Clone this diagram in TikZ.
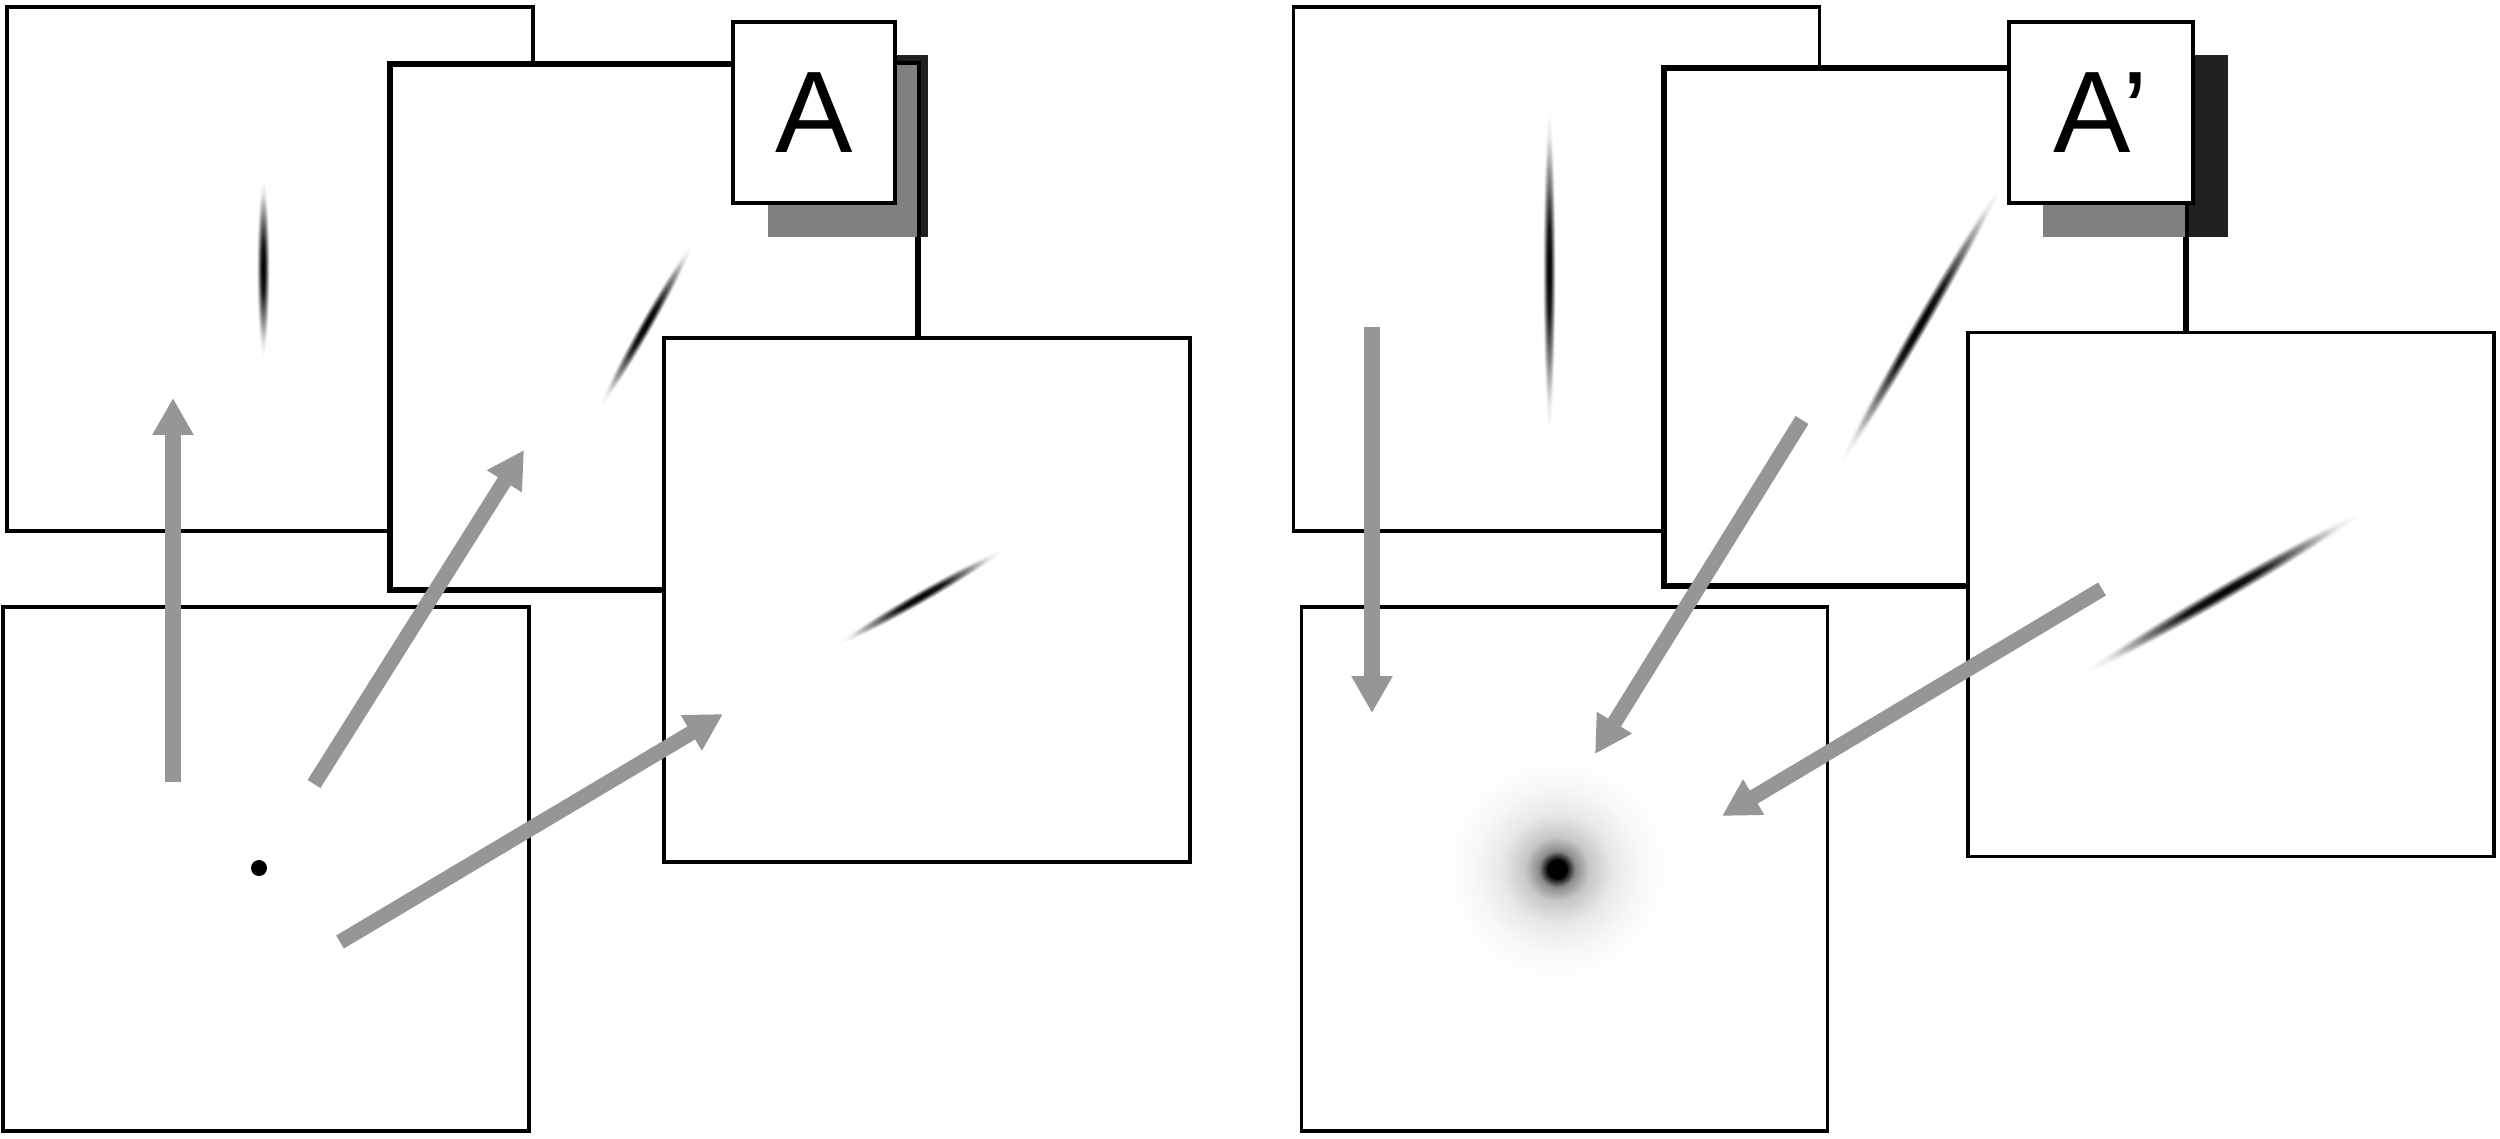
\documentclass[tikz,border=0pt]{standalone}
\usepackage{fontspec}
\usetikzlibrary{arrows.meta}
\newfontfamily\labelfont{Liberation Sans}
\definecolor{arrowgray}{RGB}{150,150,150}
\definecolor{shadowgray}{RGB}{128,128,128}
\definecolor{shadowdark}{RGB}{32,32,32}
\pgfdeclareradialshading{streak}{\pgfpoint{0bp}{0bp}}{color(0bp)=(black); color(7bp)=(black!90); color(14bp)=(black!50); color(21bp)=(black!8); color(25bp)=(white); color(50bp)=(white)}
\pgfdeclareradialshading{halo}{\pgfpoint{0bp}{0bp}}{color(0bp)=(black); color(2bp)=(black); color(4bp)=(black!45); color(7bp)=(black!22); color(12bp)=(black!9); color(18bp)=(black!3); color(25bp)=(white); color(50bp)=(white)}

\begin{document}
\begin{tikzpicture}[x=0.01cm, y=-0.01cm,
	panel/.style={draw, fill=white, line width=1pt, minimum width=5.26cm, minimum height=5.24cm, inner sep=0pt},
	tag/.style={draw, fill=white, line width=1pt, minimum width=1.62cm, minimum height=1.81cm, inner sep=0pt, font=\labelfont\fontsize{33}{36}\selectfont},
	flow/.style={arrowgray, line width=4.3pt, -{Triangle[length=10.5pt, width=11pt]}}]
	\useasboundingbox (0,0) rectangle (2500,1138);

	\node[panel] (p1) at (270,269) {};
	\node[panel] (p2) at (654,327) {};
	\fill[shadowdark] (768,55) rectangle (928,237);
	\begin{scope}
		\clip (p2.south west) rectangle (p2.north east);
		\fill[shadowgray] (768,55) rectangle (928,237);
	\end{scope}
	\draw[line width=1pt] (p2.south west) rectangle (p2.north east);
	\node[tag] (tagA) at (814,112.5) {A};
	\node[panel] (p3) at (927,600) {};
	\node[panel] (p4) at (266,869) {};

	\begin{scope}[transform canvas={rotate around={90:(263,268)}}]
		\shade[shading=streak] (263,268) ellipse (90 and 7);
	\end{scope}
	\begin{scope}[transform canvas={rotate around={60.5:(646,325)}}]
		\shade[shading=streak] (646,325) ellipse (93 and 7);
	\end{scope}
	\begin{scope}[transform canvas={rotate around={29.7:(920,597)}}]
		\shade[shading=streak] (920,597) ellipse (94 and 7);
	\end{scope}
	\fill (259,868) circle (8);

	\coordinate (a1s) at (173,782);
	\coordinate (a1e) at (173,398);
	\coordinate (a2s) at (314,784);
	\coordinate (a2e) at (524,450);
	\coordinate (a3s) at (340,942);
	\coordinate (a3e) at (723,714);
	\draw[flow] (a1s) -- (a1e);
	\draw[flow] (a2s) -- (a2e);
	\draw[flow] (a3s) -- (a3e);

	\node[panel] (q1) at (1556.5,269) {};
	\node[panel, minimum width=5.2cm, minimum height=5.16cm] (q2) at (1925,327) {};
	\fill[shadowdark] (2043,55) rectangle (2228,237);
	\begin{scope}
		\clip (q2.south west) rectangle (q2.north east);
		\fill[shadowgray] (2043,55) rectangle (2228,237);
	\end{scope}
	\draw[line width=1pt] (q2.south west) rectangle (q2.north east);
	\node[tag, minimum width=1.84cm] (tagB) at (2101,112.5) {A’};
	\node[panel] (q3) at (2231,594.5) {};
	\node[panel] (q4) at (1564.5,869) {};

	\begin{scope}[transform canvas={rotate around={90:(1549,270)}}]
		\shade[shading=streak] (1549,270) ellipse (160 and 7);
	\end{scope}
	\begin{scope}[transform canvas={rotate around={60:(1920,325)}}]
		\shade[shading=streak] (1920,325) ellipse (160 and 8);
	\end{scope}
	\begin{scope}[transform canvas={rotate around={30:(2222,593)}}]
		\shade[shading=streak] (2222,593) ellipse (158 and 9);
	\end{scope}
	\shade[shading=halo] (1557,869) circle (115);

	\coordinate (b1s) at (1372,327);
	\coordinate (b1e) at (1372,713);
	\coordinate (b2s) at (1802,420);
	\coordinate (b2e) at (1595,754);
	\coordinate (b3s) at (2102,589);
	\coordinate (b3e) at (1722,816);
	\draw[flow] (b1s) -- (b1e);
	\draw[flow] (b2s) -- (b2e);
	\draw[flow] (b3s) -- (b3e);
\end{tikzpicture}
\end{document}
